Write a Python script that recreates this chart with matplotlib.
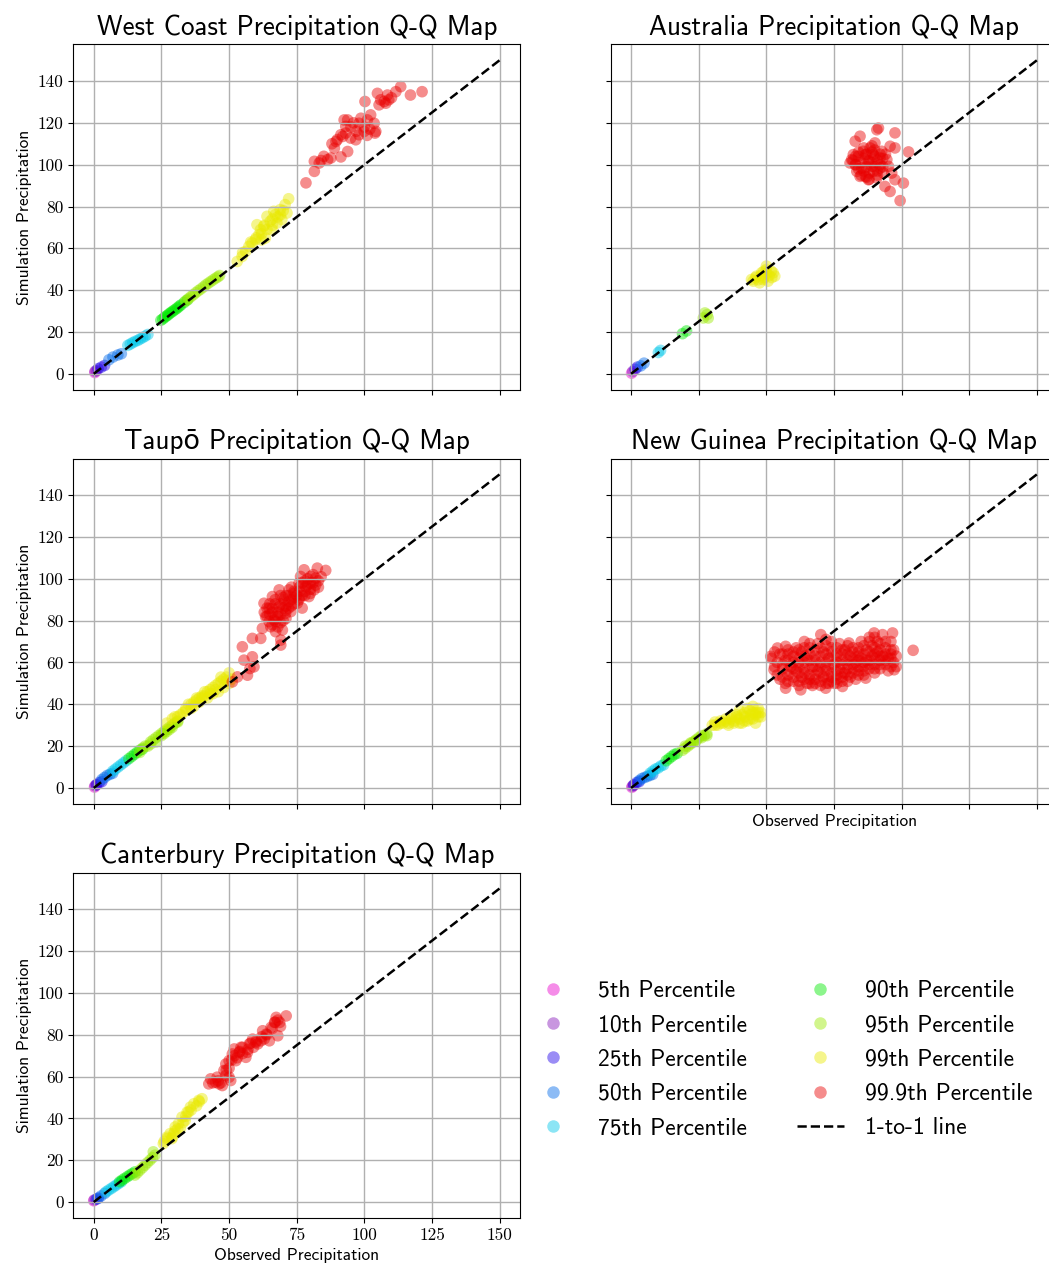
import matplotlib
matplotlib.use("Agg")
import matplotlib.pyplot as plt
from matplotlib.lines import Line2D

percentiles = ["5th Percentile", "10th Percentile", "25th Percentile", "50th Percentile",
               "75th Percentile", "90th Percentile", "95th Percentile", "99th Percentile",
               "99.9th Percentile"]
colors = ["#e900cc", "#8516ba", "#1f00e9", "#006ae9", "#00c7e9",
          "#00e900", "#9be900", "#e9e900", "#e90000"]
regions = ["West Coast", "Australia", "Taupō", "New Guinea", "Canterbury"]
x_ticks = [0, 25, 50, 75, 100, 125, 150]
y_ticks = [0, 20, 40, 60, 80, 100, 120, 140]

# (observed, simulated) pairs per percentile
west = [
    [(0.4, 0.6)],
    [(0.5, 1.2), (1.0, 1.5)],
    [(1.6, 2.4), (2.8, 3.2), (4.0, 4.0)],
    [(5.6, 6.7), (7.1, 8.0), (8.9, 9.0), (10.2, 9.6)],
    [(12.6, 13.6), (14.4, 14.9), (16.3, 16.0), (18.1, 17.3), (20.0, 18.8), (13.5, 14.2),
     (15.3, 15.5), (17.2, 16.7), (19.0, 18.0)],
    [(24.8, 25.6), (26.1, 26.9), (27.3, 28.0), (28.5, 29.3), (29.7, 30.4), (31.0, 31.6),
     (32.2, 32.9), (33.4, 34.1), (34.6, 35.3), (25.5, 26.2), (26.7, 27.5), (27.9, 28.7),
     (29.1, 29.8), (30.4, 31.0), (31.6, 32.3)],
    [(34.0, 34.9), (35.9, 36.9), (37.7, 38.8), (39.5, 40.5), (41.4, 42.5), (43.2, 44.1),
     (45.0, 45.7), (46.5, 47.0), (35.0, 35.9), (36.8, 37.8), (38.6, 39.7), (40.5, 41.5),
     (42.3, 43.3), (44.1, 44.9), (45.8, 46.3)],
    [(53.0, 53.7), (54.8, 56.1), (56.1, 58.5), (57.3, 60.9), (58.5, 62.5), (59.7, 64.1),
     (61.0, 66.5), (61.6, 68.9), (62.8, 70.5), (63.4, 64.9), (65.2, 72.9), (65.9, 68.9),
     (67.1, 76.1), (67.7, 72.1), (68.9, 78.5), (69.5, 73.7), (70.7, 80.9), (72.0, 83.7),
     (71.4, 76.9), (66.5, 77.7), (64.0, 75.3), (60.3, 71.3), (55.0, 58.0), (58.0, 63.0),
     (60.0, 65.0), (62.0, 67.0), (63.0, 71.0), (64.0, 69.0), (66.0, 74.0), (68.0, 75.0),
     (69.0, 76.0), (70.0, 78.0), (66.0, 71.0), (62.0, 64.0)],
    [(78.4, 91.3), (81.5, 96.8), (81.5, 101.6), (83.3, 100.8), (86.4, 102.4), (87.6, 103.2),
     (91.3, 103.7), (93.8, 106.3), (88.9, 107.9), (89.5, 111.1), (91.3, 114.3), (93.1, 115.1),
     (92.5, 121.4), (93.8, 121.4), (92.0, 113.5), (94.9, 112.7), (96.8, 111.9), (98.7, 122.2),
     (99.9, 115.9), (101.1, 121.4), (102.3, 123.8), (103.6, 119.8), (104.2, 115.9),
     (103.9, 115.1), (100.2, 130.2), (104.8, 134.1), (105.4, 128.6), (107.9, 129.4),
     (108.5, 133.3), (111.6, 134.9), (113.4, 137.3), (117.0, 133.3), (121.3, 134.9),
     (107.3, 130.2), (98.0, 119.8), (98.0, 114.3), (93.1, 118.3), (95.0, 118.0), (97.0, 116.0),
     (100.0, 118.0), (102.0, 117.0), (90.0, 112.0), (88.0, 110.0), (85.0, 104.0),
     (84.0, 102.0), (106.0, 131.0), (109.0, 131.0), (110.0, 132.0), (101.0, 114.0),
     (96.0, 120.0)],
]

australia = [
    [(0.2, 0.3)],
    [(0.6, 1.1)],
    [(1.5, 2.2), (2.3, 3.2)],
    [(3.6, 3.8), (4.8, 5.1)],
    [(10.1, 10.2), (10.9, 11.2)],
    [(19.0, 19.2), (20.5, 20.5)],
    [(26.7, 26.7), (28.1, 28.3), (27.3, 29.1), (28.5, 26.7)],
    [(44.5, 45.1), (46.3, 46.7), (48.2, 48.3), (50.0, 49.9), (51.8, 49.1), (53.1, 46.7),
     (50.6, 44.3), (48.8, 45.1), (47.5, 43.5), (45.1, 44.3), (52.5, 48.3), (50.0, 51.5),
     (46.0, 46.0), (48.0, 47.0), (49.0, 46.0), (51.0, 47.0), (50.0, 48.0), (47.0, 45.0),
     (52.0, 46.0), (49.0, 49.0)],
    [(91.4, 117.5), (84.6, 113.6), (82.8, 111.2), (97.5, 115.2), (95.7, 108.8), (97.5, 108.0),
     (102.5, 106.1), (96.3, 96.0), (97.5, 92.8), (100.6, 91.2), (93.8, 89.6), (95.7, 87.2),
     (99.4, 82.8), (90.8, 116.7), (81.5, 102.4), (82.8, 100.0), (84.0, 104.0), (85.8, 106.4),
     (88.3, 108.0), (90.1, 110.4), (89.5, 104.8), (92.0, 103.2), (94.5, 102.4), (87.7, 101.6),
     (85.2, 98.4), (83.4, 96.8), (86.6, 94.4), (89.5, 96.8), (92.0, 98.4), (90.8, 93.6),
     (93.2, 96.0), (84.6, 94.4), (86.5, 104.8), (89.0, 99.2), (82.1, 104.8), (80.9, 100.8),
     (92.6, 106.4), (95.1, 99.2), (87.7, 92.8), (82.0, 102.0), (83.0, 104.0), (84.0, 98.0),
     (85.0, 101.0), (86.0, 103.0), (86.0, 97.0), (87.0, 105.0), (87.0, 99.0), (88.0, 102.0),
     (88.0, 96.0), (89.0, 106.0), (89.0, 101.0), (90.0, 99.0), (90.0, 104.0), (91.0, 97.0),
     (91.0, 102.0), (92.0, 100.0), (92.0, 105.0), (93.0, 99.0), (93.0, 103.0), (84.0, 106.0),
     (85.0, 95.0), (88.0, 93.0), (91.0, 95.0), (94.0, 105.0), (86.0, 108.0), (89.0, 109.0),
     (83.0, 100.0), (90.0, 107.0), (87.0, 94.0)],
]

taupo = [
    [(0.3, 0.4)],
    [(0.5, 1.0), (1.0, 1.5)],
    [(1.0, 1.5), (2.0, 2.5), (3.0, 3.0)],
    [(3.0, 4.0), (4.0, 5.0), (5.0, 6.0), (6.0, 6.5), (7.0, 7.0)],
    [(7.0, 8.0), (8.0, 9.0), (9.0, 10.0), (10.0, 11.0), (11.0, 12.0), (12.0, 13.0)],
    [(13.0, 14.0), (14.0, 15.0), (15.0, 16.0), (16.0, 17.0), (17.0, 18.0), (18.0, 18.5)],
    [(17.0, 17.0), (18.0, 19.0), (20.0, 20.0), (21.0, 21.0), (22.0, 23.0), (23.0, 22.0),
     (24.0, 25.0), (25.0, 26.0), (26.0, 27.0), (27.0, 28.0), (28.0, 29.0), (29.0, 30.0),
     (30.0, 31.0), (31.0, 32.0), (19.0, 20.0), (21.0, 22.0), (23.0, 24.0), (25.0, 25.0),
     (27.0, 27.0), (29.0, 29.0), (31.0, 31.5), (26.0, 26.0), (28.0, 28.0)],
    [(27.0, 31.0), (29.0, 33.0), (31.0, 34.0), (33.0, 36.0), (34.0, 38.0), (35.0, 40.0),
     (36.0, 38.0), (37.0, 41.0), (38.0, 43.0), (39.0, 41.0), (40.0, 44.0), (41.0, 46.0),
     (42.0, 43.0), (43.0, 47.0), (44.0, 45.0), (45.0, 49.0), (46.0, 46.0), (47.0, 51.0),
     (48.0, 48.0), (49.0, 53.0), (50.0, 50.0), (50.0, 55.0), (47.0, 53.0), (45.0, 47.0),
     (51.0, 52.0), (30.0, 34.0), (32.0, 35.0), (34.0, 37.0), (36.0, 40.0), (38.0, 42.0),
     (40.0, 43.0), (41.0, 44.0), (43.0, 45.0), (44.0, 48.0), (46.0, 50.0), (48.0, 52.0),
     (49.0, 51.0), (42.0, 46.0), (39.0, 43.0), (37.0, 39.0)],
    [(51.2, 50.7), (53.1, 53.1), (56.8, 53.9), (57.7, 57.1), (55.5, 61.1), (54.9, 67.5),
     (58.6, 62.7), (59.2, 57.9), (58.6, 71.5), (61.7, 71.5), (62.3, 76.3), (69.1, 68.3),
     (69.1, 70.7), (69.7, 75.5), (65.4, 77.1), (67.2, 79.5), (63.5, 81.9), (62.9, 88.3),
     (66.0, 91.5), (64.8, 85.9), (68.5, 86.7), (70.3, 89.9), (70.9, 83.5), (72.1, 94.7),
     (74.0, 93.1), (75.8, 97.9), (75.2, 88.3), (78.3, 96.3), (79.5, 91.5), (81.4, 94.7),
     (82.0, 100.3), (77.7, 104.3), (82.6, 105.1), (85.7, 104.0), (76.4, 101.1), (80.1, 101.1),
     (72.8, 84.3), (66.6, 80.3), (68.5, 94.7), (72.1, 89.1), (75.8, 89.9), (64.8, 79.5),
     (67.2, 74.7), (66.0, 84.0), (67.0, 88.0), (68.0, 82.0), (69.0, 79.0), (70.0, 86.0),
     (71.0, 92.0), (73.0, 87.0), (74.0, 91.0), (76.0, 94.0), (77.0, 92.0), (78.0, 99.0),
     (79.0, 97.0), (80.0, 95.0), (81.0, 98.0), (83.0, 96.0), (84.0, 101.0), (65.0, 88.0),
     (63.0, 84.0), (69.0, 92.0), (71.0, 81.0), (73.0, 96.0), (77.0, 86.0), (64.0, 86.0),
     (65.0, 83.0), (66.0, 86.0), (67.0, 90.0), (68.0, 84.0), (69.0, 88.0), (70.0, 91.0),
     (71.0, 87.0), (72.0, 92.0), (73.0, 90.0), (74.0, 94.0), (75.0, 92.0), (76.0, 96.0),
     (77.0, 98.0), (78.0, 94.0), (79.0, 100.0), (80.0, 98.0), (81.0, 102.0), (82.0, 97.0),
     (83.0, 99.0), (64.0, 82.0), (66.0, 78.0), (68.0, 77.0), (70.0, 80.0), (72.0, 86.0),
     (74.0, 88.0), (76.0, 91.0), (78.0, 92.0), (80.0, 93.0), (67.0, 82.0), (69.0, 83.0),
     (71.0, 85.0)],
]

guinea = [
    [(0.3, 0.3)],
    [(0.5, 0.8), (1.0, 1.2)],
    [(1.0, 1.5), (2.0, 2.5), (3.0, 3.0)],
    [(3.0, 3.5), (4.0, 4.5), (5.0, 5.0), (6.0, 5.5), (7.0, 6.0), (8.0, 6.5)],
    [(7.0, 7.0), (8.0, 8.0), (9.0, 9.0), (10.0, 9.5), (11.0, 10.5), (12.0, 11.0)],
    [(13.0, 13.0), (14.0, 14.0), (15.0, 15.0), (16.0, 16.0), (17.0, 16.5)],
    [(19.0, 18.0), (20.0, 19.0), (21.0, 20.0), (22.0, 21.0), (23.0, 22.0), (24.0, 23.0),
     (25.0, 24.0), (26.0, 24.0), (27.0, 25.0), (28.0, 26.0), (20.0, 20.0), (22.0, 21.5),
     (24.0, 22.5), (26.0, 25.0), (28.0, 25.0)],
    [(30.0, 30.0), (31.0, 31.5), (32.0, 30.0), (33.0, 32.0), (34.0, 31.0), (35.0, 33.0),
     (36.0, 31.0), (37.0, 34.0), (38.0, 32.0), (39.0, 35.0), (40.0, 33.0), (40.0, 37.0),
     (41.0, 31.0), (42.0, 34.0), (43.0, 38.0), (43.0, 32.0), (44.0, 35.0), (45.0, 39.0),
     (45.0, 33.0), (46.0, 36.0), (47.0, 34.0), (47.0, 38.0), (48.0, 36.0), (46.0, 31.0),
     (31.0, 30.0), (33.0, 31.0), (35.0, 32.0), (37.0, 33.0), (39.0, 34.0), (41.0, 35.0),
     (42.0, 36.0), (44.0, 37.0), (46.0, 35.0), (48.0, 34.0), (44.0, 33.0), (42.0, 32.0),
     (38.0, 31.0), (36.0, 30.0), (40.0, 31.0), (45.0, 36.0), (47.0, 36.0)],
    [(51.6, 62.9), (52.8, 56.5), (54.1, 66.9), (57.1, 67.7), (57.1, 47.7), (62.7, 46.9),
     (71.9, 47.7), (78.1, 48.5), (86.7, 52.5), (97.2, 56.5), (70.1, 73.3), (80.5, 69.3),
     (89.8, 74.1), (92.9, 73.3), (96.6, 74.1), (104.2, 65.8), (52.0, 62.0), (53.0, 58.0),
     (53.0, 65.0), (54.0, 54.0), (54.0, 60.0), (55.0, 52.0), (55.0, 64.0), (56.0, 57.0),
     (57.0, 50.0), (57.0, 61.0), (58.0, 66.0), (58.0, 54.0), (59.0, 58.0), (60.0, 51.0),
     (60.0, 63.0), (61.0, 56.0), (61.0, 67.0), (62.0, 49.0), (62.0, 60.0), (63.0, 53.0),
     (63.0, 65.0), (64.0, 57.0), (64.0, 70.0), (65.0, 50.0), (65.0, 62.0), (66.0, 54.0),
     (66.0, 67.0), (67.0, 58.0), (67.0, 49.0), (68.0, 63.0), (68.0, 52.0), (69.0, 69.0),
     (69.0, 56.0), (70.0, 60.0), (70.0, 49.0), (71.0, 65.0), (71.0, 53.0), (72.0, 58.0),
     (72.0, 71.0), (73.0, 50.0), (73.0, 62.0), (74.0, 55.0), (74.0, 67.0), (75.0, 59.0),
     (75.0, 50.0), (76.0, 64.0), (76.0, 54.0), (77.0, 69.0), (77.0, 57.0), (78.0, 61.0),
     (78.0, 51.0), (79.0, 66.0), (79.0, 55.0), (80.0, 59.0), (81.0, 53.0), (81.0, 63.0),
     (82.0, 57.0), (82.0, 67.0), (83.0, 60.0), (83.0, 52.0), (84.0, 65.0), (84.0, 56.0),
     (85.0, 62.0), (85.0, 70.0), (86.0, 58.0), (86.0, 54.0), (87.0, 66.0), (87.0, 61.0),
     (88.0, 72.0), (88.0, 57.0), (89.0, 63.0), (89.0, 68.0), (90.0, 59.0), (90.0, 55.0),
     (91.0, 65.0), (91.0, 70.0), (92.0, 61.0), (92.0, 57.0), (93.0, 63.0), (94.0, 59.0),
     (94.0, 67.0), (95.0, 62.0), (95.0, 56.0), (96.0, 70.0), (96.0, 64.0), (97.0, 60.0),
     (97.0, 66.0), (98.0, 63.0), (98.0, 58.0),
     (56.0, 53.0), (56.0, 59.0), (56.0, 64.0), (58.0, 51.0), (58.0, 56.0), (58.0, 61.0),
     (58.0, 64.0), (60.0, 53.0), (60.0, 57.0), (60.0, 60.0), (60.0, 65.0), (62.0, 51.0),
     (62.0, 55.0), (62.0, 58.0), (62.0, 62.0), (62.0, 66.0), (64.0, 52.0), (64.0, 55.0),
     (64.0, 60.0), (64.0, 63.0), (64.0, 67.0), (66.0, 50.0), (66.0, 52.0), (66.0, 57.0),
     (66.0, 61.0), (66.0, 64.0), (66.0, 69.0), (68.0, 50.0), (68.0, 54.0), (68.0, 58.0),
     (68.0, 61.0), (68.0, 66.0), (70.0, 51.0), (70.0, 55.0), (70.0, 58.0), (70.0, 63.0),
     (70.0, 67.0), (72.0, 50.0), (72.0, 53.0), (72.0, 56.0), (72.0, 60.0), (72.0, 64.0),
     (72.0, 68.0), (74.0, 51.0), (74.0, 53.0), (74.0, 58.0), (74.0, 62.0), (74.0, 65.0),
     (74.0, 70.0), (76.0, 50.0), (76.0, 52.0), (76.0, 56.0), (76.0, 60.0), (76.0, 62.0),
     (76.0, 67.0), (78.0, 53.0), (78.0, 55.0), (78.0, 59.0), (78.0, 64.0), (78.0, 66.0),
     (80.0, 51.0), (80.0, 54.0), (80.0, 57.0), (80.0, 61.0), (80.0, 64.0), (80.0, 68.0),
     (82.0, 55.0), (82.0, 59.0), (82.0, 62.0), (82.0, 65.0), (84.0, 54.0), (84.0, 58.0),
     (84.0, 61.0), (84.0, 63.0), (84.0, 67.0), (86.0, 56.0), (86.0, 60.0), (86.0, 64.0),
     (86.0, 68.0), (88.0, 59.0), (88.0, 61.0), (88.0, 65.0), (88.0, 70.0), (90.0, 57.0),
     (90.0, 62.0), (90.0, 64.0), (90.0, 67.0), (90.0, 72.0), (92.0, 59.0), (92.0, 63.0),
     (92.0, 66.0), (92.0, 69.0), (94.0, 61.0), (94.0, 64.0), (94.0, 70.0), (96.0, 58.0),
     (96.0, 62.0), (96.0, 66.0)],
]

canterbury = [
    [(0.0, 0.6)],
    [(0.2, 1.0)],
    [(0.9, 1.3), (1.7, 1.9)],
    [(1.5, 1.7), (2.7, 2.9), (4.0, 4.1)],
    [(4.6, 4.9), (6.5, 6.5), (8.3, 8.1), (10.2, 9.7), (5.5, 5.7), (7.4, 7.3), (9.2, 8.9)],
    [(9.6, 9.7), (11.4, 11.3), (13.3, 12.9), (15.2, 14.4), (10.5, 10.5), (12.4, 12.1),
     (14.2, 13.6)],
    [(15.2, 12.9), (17.0, 15.2), (18.9, 17.6), (20.8, 20.0), (22.6, 22.4), (22.0, 24.0),
     (16.1, 14.0), (18.0, 16.4), (19.8, 18.8), (21.7, 21.2)],
    [(25.7, 27.9), (27.0, 30.3), (28.2, 32.7), (29.5, 32.7), (30.1, 35.9), (31.3, 37.5),
     (32.6, 40.6), (33.8, 39.0), (34.5, 43.0), (35.7, 45.4), (37.0, 47.0), (38.8, 48.6),
     (40.0, 49.4), (28.9, 30.3), (32.0, 35.1), (26.0, 29.0), (27.0, 31.0), (29.0, 31.0),
     (30.0, 34.0), (31.0, 35.0), (33.0, 38.0), (34.0, 41.0), (35.0, 43.0), (36.0, 44.0),
     (38.0, 46.0), (39.0, 48.0)],
    [(42.5, 56.5), (43.2, 58.9), (45.0, 57.3), (46.3, 56.5), (47.5, 55.7), (45.6, 59.7),
     (50.6, 58.1), (48.1, 62.9), (48.8, 66.0), (50.0, 67.6), (51.2, 70.8), (52.5, 67.6),
     (53.7, 71.6), (55.0, 74.0), (56.2, 69.2), (57.5, 75.6), (58.7, 77.9), (60.6, 75.6),
     (61.8, 77.1), (62.4, 81.9), (63.7, 80.3), (64.9, 77.1), (65.5, 83.5), (66.8, 85.9),
     (67.4, 88.3), (68.0, 79.5), (68.7, 85.9), (71.1, 89.0), (51.9, 73.2), (54.4, 74.0),
     (56.8, 71.6), (59.9, 76.3), (48.8, 60.5), (50.0, 59.7), (44.0, 57.0), (46.0, 58.0),
     (47.0, 57.0), (49.0, 63.0), (50.0, 64.0), (51.0, 68.0), (52.0, 70.0), (53.0, 69.0),
     (54.0, 72.0), (55.0, 71.0), (57.0, 73.0), (58.0, 76.0), (59.0, 74.0), (60.0, 77.0),
     (62.0, 79.0), (63.0, 78.0), (64.0, 80.0), (66.0, 83.0), (67.0, 86.0), (68.0, 87.0),
     (69.0, 84.0)],
]

all_regions = [west, australia, taupo, guinea, canterbury]

plt.rcParams['font.family'] = ['cmr10', 'DejaVu Sans']
sans = ['cmss10', 'DejaVu Sans']

fig, axes = plt.subplots(3, 2, figsize=(10.49, 12.69), dpi=100, sharex=True, sharey=True)
fig.subplots_adjust(left=0.07, right=1.008, top=0.965, bottom=0.0404, wspace=0.203, hspace=0.2)
flat = axes.flatten()

for i, name in enumerate(regions):
    ax = flat[i]
    for j, pts in enumerate(all_regions[i]):
        obs = [p[0] for p in pts]
        sim = [p[1] for p in pts]
        ax.scatter(obs, sim, s=70, color=colors[j], alpha=0.45, edgecolors='none')
    ax.plot([0, 150], [0, 150], 'k--', lw=1.8)
    ax.grid(True, color='#b0b0b0', lw=1)
    ax.set_title(f"{name} Precipitation Q-Q Map", fontsize=19.5, family=sans, pad=7)
    ax.set_xticks(x_ticks, [str(t) for t in x_ticks])
    ax.set_yticks(y_ticks, [str(t) for t in y_ticks])
    ax.tick_params(labelsize=12.5)
    if i % 2 == 0:
        ax.set_ylabel("Simulation Precipitation", fontsize=12.5, family=sans)
    if i >= 3:
        ax.set_xlabel("Observed Precipitation", fontsize=12.5, family=sans)

flat[5].axis('off')

handles = [Line2D([], [], marker='o', ls='none', color=c, alpha=0.45, ms=9, mec='none')
           for c in colors]
handles.append(Line2D([], [], color='k', ls='--', lw=1.8))
labels = percentiles + ["1-to-1 line"]
fig.legend(handles, labels, loc='center', bbox_to_anchor=(781 / 1049, 1 - 1059.5 / 1269),
           ncol=2, frameon=False, prop={'family': sans, 'size': 17}, handlelength=2.0,
           handletextpad=0.9, columnspacing=2.1, labelspacing=0.52)

fig.savefig("out.png", dpi=100)
